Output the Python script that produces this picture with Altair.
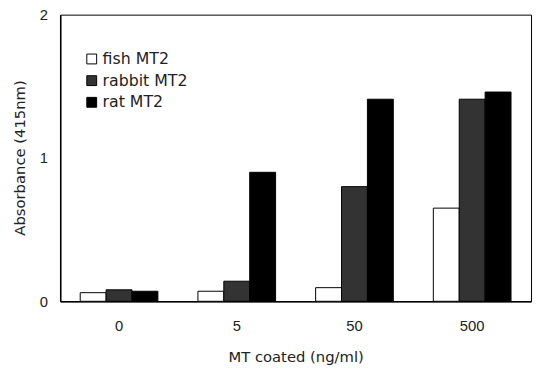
import altair as alt
import pandas as pd

doses = ["0", "5", "50", "500"]
series = ["fish MT2", "rabbit MT2", "rat MT2"]
fish = [0.06, 0.07, 0.095, 0.65]
rabbit = [0.08, 0.14, 0.80, 1.41]
rat = [0.07, 0.90, 1.41, 1.46]
y_ticks = [0, 1, 2]

rows = []
for i, d in enumerate(doses):
    for s, vals in zip(series, [fish, rabbit, rat]):
        rows.append({"dose": d, "series": s, "value": vals[i]})
df = pd.DataFrame(rows)

font = "Liberation Sans"
tfont = "DejaVu Sans"

chart = alt.Chart(df).mark_bar(stroke="black", strokeWidth=1).encode(
    x=alt.X("dose:N", sort=doses,
            scale=alt.Scale(paddingInner=0.34, paddingOuter=0.17),
            axis=alt.Axis(title="MT coated (ng/ml)", labelAngle=0, ticks=False,
                          labelPadding=18, titlePadding=16)),
    xOffset=alt.XOffset("series:N", sort=series, scale=alt.Scale(paddingInner=0, paddingOuter=0)),
    y=alt.Y("value:Q", scale=alt.Scale(domain=[0, 2]),
            axis=alt.Axis(title="Absorbance (415nm)", values=y_ticks, ticks=False,
                          labelExpr="format(datum.value, '.0f')",
                          grid=False, labelPadding=13, labelOverlap=False,
                          titleX=-41, titleY=145,
                          titleAngle=-90, titleAlign="center", titleBaseline="middle")),
    fill=alt.Fill("series:N", sort=series,
                  scale=alt.Scale(domain=series, range=["#ffffff", "#333333", "#000000"]),
                  legend=alt.Legend(title=None, orient="none", legendX=24, legendY=37,
                                    symbolType="square", symbolSize=100,
                                    symbolStrokeColor="black", symbolStrokeWidth=1,
                                    labelFontSize=16, labelFont=tfont, labelColor="#222",
                                    rowPadding=6, labelOffset=3)),
).properties(
    width=478, height=291,
    autosize=alt.AutoSizeParams(type="none"),
    padding={"left": 53, "top": 4, "right": 2, "bottom": 66},
).configure_view(
    stroke="black", strokeWidth=1
).configure_axis(
    domainColor="black", domainWidth=1.5, labelFont=font, titleFont=tfont,
    labelFontSize=15, titleFontSize=15, labelColor="#222", titleColor="#222",
    titleFontWeight="normal", grid=False
)

chart.save("out.html", embed_options={"renderer": "svg", "actions": False})
